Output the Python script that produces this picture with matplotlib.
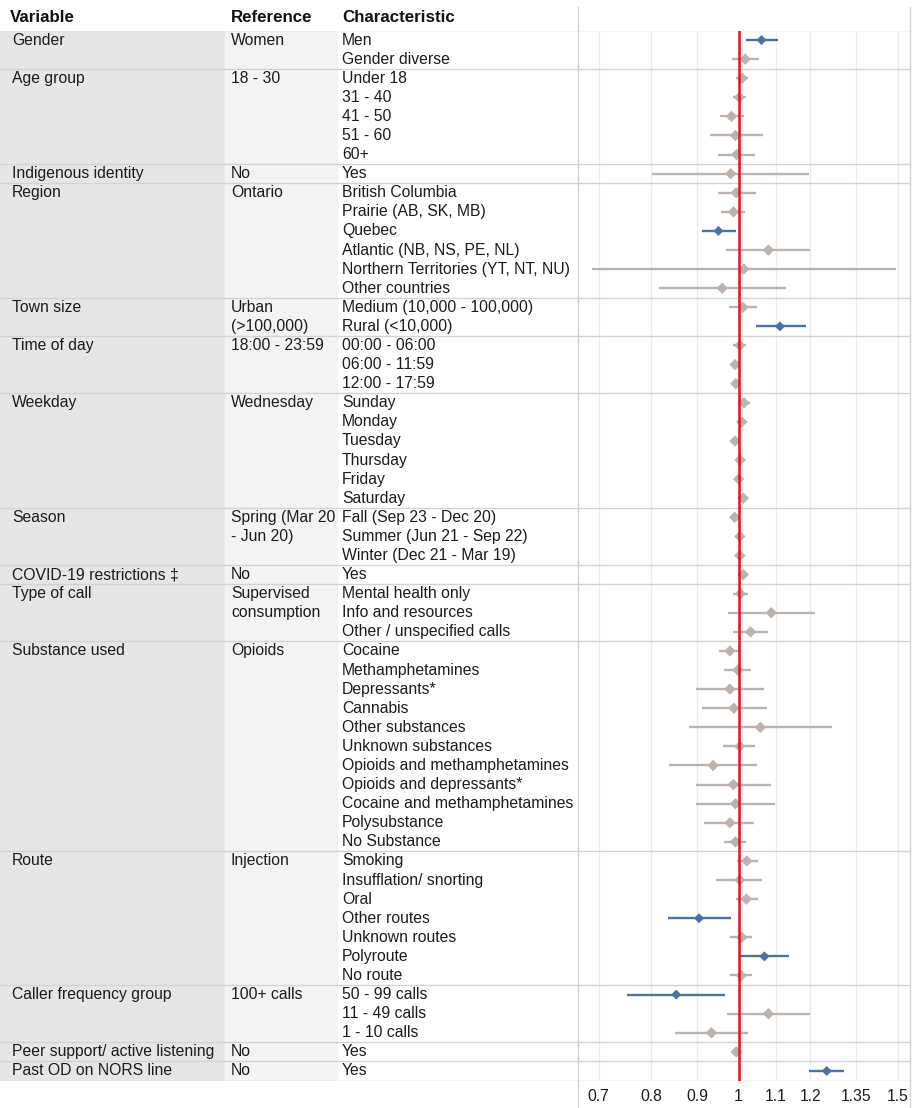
import numpy as np
import matplotlib.pyplot as plt
from matplotlib.lines import Line2D
from matplotlib.ticker import NullLocator

plt.rcParams['font.family'] = ['Liberation Sans', 'DejaVu Sans']

# one entry per variable group
variables = ["Gender", "Age group", "Indigenous identity", "Region", "Town size",
             "Time of day", "Weekday", "Season", "COVID-19 restrictions \u2021",
             "Type of call", "Substance used", "Route", "Caller frequency group",
             "Peer support/ active listening", "Past OD on NORS line"]
references = ["Women", "18 - 30", "No", "Ontario", "Urban\n(>100,000)", "18:00 - 23:59",
              "Wednesday", "Spring (Mar 20\n- Jun 20)", "No", "Supervised\nconsumption",
              "Opioids", "Injection", "100+ calls", "No", "No"]
group_sizes = [2, 5, 1, 6, 2, 3, 6, 3, 1, 3, 11, 7, 3, 1, 1]

# one entry per row
characteristics = [
    "Men", "Gender diverse",
    "Under 18", "31 - 40", "41 - 50", "51 - 60", "60+",
    "Yes",
    "British Columbia", "Prairie (AB, SK, MB)", "Quebec", "Atlantic (NB, NS, PE, NL)",
    "Northern Territories (YT, NT, NU)", "Other countries",
    "Medium (10,000 - 100,000)", "Rural (<10,000)",
    "00:00 - 06:00", "06:00 - 11:59", "12:00 - 17:59",
    "Sunday", "Monday", "Tuesday", "Thursday", "Friday", "Saturday",
    "Fall (Sep 23 - Dec 20)", "Summer (Jun 21 - Sep 22)", "Winter (Dec 21 - Mar 19)",
    "Yes",
    "Mental health only", "Info and resources", "Other / unspecified calls",
    "Cocaine", "Methamphetamines", "Depressants*", "Cannabis", "Other substances",
    "Unknown substances", "Opioids and methamphetamines", "Opioids and depressants*",
    "Cocaine and methamphetamines", "Polysubstance", "No Substance",
    "Smoking", "Insufflation/ snorting", "Oral", "Other routes", "Unknown routes",
    "Polyroute", "No route",
    "50 - 99 calls", "11 - 49 calls", "1 - 10 calls",
    "Yes",
    "Yes",
]
estimates = [1.060, 1.017,
             1.009, 1.002, 0.982, 0.992, 0.995,
             0.980,
             0.994, 0.987, 0.950, 1.079, 1.013, 0.959,
             1.011, 1.111,
             1.003, 0.991, 0.993,
             1.014, 1.008, 0.991, 1.004, 1.000, 1.012,
             0.990, 1.003, 1.003,
             1.012,
             1.005, 1.087, 1.031,
             0.978, 0.998, 0.978, 0.988, 1.057, 1.003, 0.937, 0.987, 0.992, 0.978, 0.992,
             1.021, 1.003, 1.020, 0.904, 1.008, 1.068, 1.007,
             0.853, 1.079, 0.933,
             0.994,
             1.252]
ci_low = [1.018, 0.984,
          0.994, 0.987, 0.953, 0.929, 0.950,
          0.802,
          0.948, 0.956, 0.911, 0.969, 0.689, 0.817,
          0.976, 1.045,
          0.987, 0.984, 0.986,
          0.999, 0.997, 0.982, 0.994, 0.990, 0.999,
          0.981, 0.994, 0.994,
          0.999,
          0.985, 0.973, 0.986,
          0.952, 0.964, 0.898, 0.910, 0.882, 0.960, 0.837, 0.896, 0.898, 0.916, 0.964,
          0.995, 0.945, 0.993, 0.835, 0.978, 1.003, 0.978,
          0.753, 0.972, 0.851,
          0.988,
          1.198]
ci_high = [1.107, 1.053,
           1.025, 1.018, 1.014, 1.065, 1.043,
           1.197,
           1.045, 1.016, 0.993, 1.201, 1.494, 1.127,
           1.048, 1.187,
           1.018, 1.000, 1.001,
           1.030, 1.019, 1.001, 1.015, 1.011, 1.024,
           1.004, 1.011, 1.012,
           1.022,
           1.025, 1.216, 1.077,
           1.005, 1.032, 1.067, 1.074, 1.268, 1.043, 1.048, 1.086, 1.098, 1.041, 1.020,
           1.050, 1.062, 1.051, 0.981, 1.036, 1.138, 1.034,
           0.965, 1.201, 1.025,
           1.000,
           1.308]
significant = [1, 0,
               0, 0, 0, 0, 0,
               0,
               0, 0, 1, 0, 0, 0,
               0, 1,
               0, 0, 0,
               0, 0, 0, 0, 0, 0,
               0, 0, 0,
               0,
               0, 0, 0,
               0, 0, 0, 0, 0, 0, 0, 0, 0, 0, 0,
               0, 0, 0, 1, 0, 1, 0,
               1, 0, 0,
               0,
               1]
ticks = [0.7, 0.8, 0.9, 1, 1.1, 1.2, 1.35, 1.5]

W, H = 915, 1108
TOP, BOT = 30.5, 1080.5
SPLIT, RIGHT = 578, 910
LINE = '#d3d3d3'
TEXT = '#1c1c1c'


def box(x0, y0, x1, y1):
    return [x0 / W, 1 - y1 / H, (x1 - x0) / W, (y1 - y0) / H]


fig = plt.figure(figsize=(W / 100, H / 100), dpi=100)
tab = fig.add_axes(box(0, TOP, SPLIT, BOT))
ax = fig.add_axes(box(SPLIT, TOP, RIGHT, BOT), sharey=tab)

n = len(characteristics)
rows = np.arange(n)
starts = np.concatenate([[0], np.cumsum(group_sizes)[:-1]])
row_px = (BOT - TOP) / n

# ---- table on the left ----
tab.set_xlim(0, SPLIT)
tab.set_ylim(n - 0.5, -0.5)
tab.axis('off')
tab.axvspan(0, 225, color='#e6e6e6', zorder=0)
tab.axvspan(225, 337, color='#f3f3f3', zorder=0)

head_y = -0.5 - 12.5 / row_px
for x, label in [(10, "Variable"), (231, "Reference"), (342, "Characteristic")]:
    tab.text(x, head_y, label, fontsize=12.2, fontweight='bold', va='center', color='#111111')

for var, ref, s in zip(variables, references, starts):
    tab.text(12, s, var, fontsize=11.3, va='center', color=TEXT)
    for k, part in enumerate(ref.split('\n')):
        tab.text(231, s + k, part, fontsize=11.3, va='center', color=TEXT)
for i, c in enumerate(characteristics):
    tab.text(342, i, c, fontsize=11.3, va='center', color=TEXT)

# group separators across table and plot
for b in list(starts - 0.5) + [n - 0.5]:
    tab.axhline(b, color=LINE, lw=1, zorder=1)
    ax.axhline(b, color=LINE, lw=1, zorder=1)

# ---- forest plot ----
ax.set_xscale('log')
ax.set_xlim(0.664, 1.548)
ax.set_xticks(ticks)
ax.set_xticklabels([f'{t:g}' for t in ticks])
ax.xaxis.set_minor_locator(NullLocator())
ax.tick_params(axis='x', length=0, pad=6, labelsize=11.3, colors=TEXT)
ax.tick_params(axis='y', left=False, labelleft=False)
for sp in ax.spines.values():
    sp.set_visible(False)
ax.grid(axis='x', color='#ececec', lw=0.9)
ax.set_axisbelow(True)

colors = ['#4a72a6' if s else '#bdb3ae' for s in significant]
sizes = [26 if s else 34 for s in significant]
ax.hlines(rows, ci_low, ci_high, colors=colors, lw=1.7, zorder=3)
ax.scatter(estimates, rows, marker='D', s=sizes, c=colors, linewidths=0, zorder=4)
ax.axvline(1, color='#e8101a', lw=1.8, zorder=5)

# vertical frame lines of the plot column
for x in (SPLIT, RIGHT):
    fig.add_artist(Line2D([x / W, x / W], [1 - 7 / H, 0], color=LINE, lw=1,
                          transform=fig.transFigure))

fig.savefig('out.png', dpi=100)
